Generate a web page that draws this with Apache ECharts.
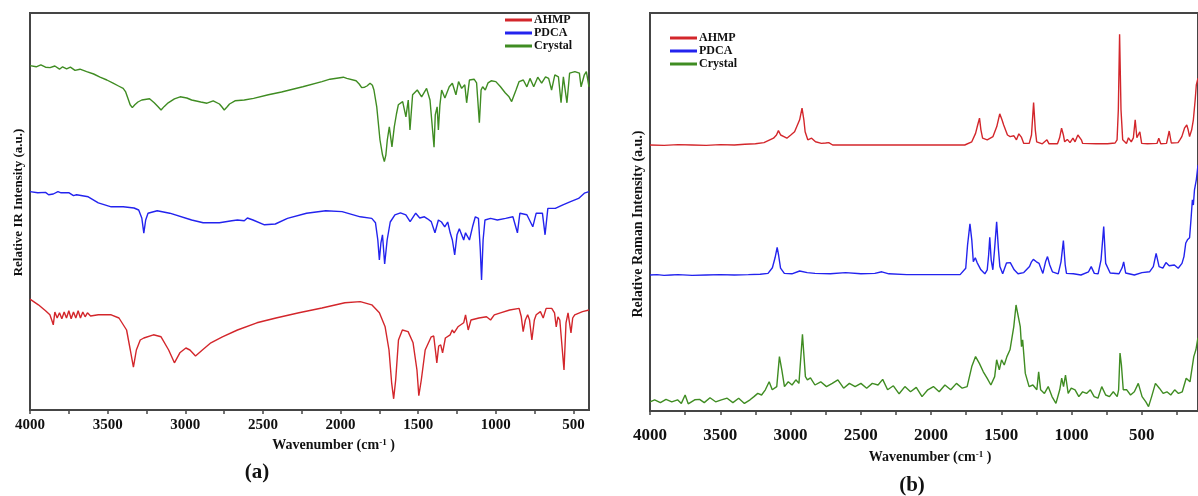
<!DOCTYPE html>
<html><head><meta charset="utf-8">
<script src="https://cdn.jsdelivr.net/npm/echarts@6/dist/echarts.min.js"></script>
<style>html,body{margin:0;padding:0;background:#fff}#c{width:1198px;height:496px}</style>
</head><body><div id="c"></div>
<script>
const seriesNames = ['AHMP', 'PDCA', 'Crystal'];
const tickLabels = [4000, 3500, 3000, 2500, 2000, 1500, 1000, 500];
const tickMarksIR = [4000, 3750, 3500, 3250, 3000, 2750, 2500, 2250, 2000, 1750, 1500, 1250, 1000, 750, 500];
const tickMarksRaman = [4000, 3750, 3500, 3250, 3000, 2750, 2500, 2250, 2000, 1750, 1500, 1250, 1000, 750, 500, 250];

// IR spectra (panel a): [wavenumber, relative intensity]
const irCrystal = [[4000,86.1],[3960,85.8],[3930,86.3],[3900,85.7],[3871,85.6],[3840,86.0],[3810,85.2],[3790,85.8],[3764,85.3],[3740,85.7],[3710,84.9],[3678,85.2],[3635,84.6],[3590,84.0],[3549,83.2],[3505,82.5],[3465,81.7],[3430,81.0],[3400,80.4],[3385,79.6],[3369,77.9],[3355,76.3],[3341,75.6],[3325,76.3],[3305,77.0],[3280,77.5],[3230,77.8],[3200,76.8],[3175,75.8],[3156,75.0],[3135,75.9],[3110,76.8],[3070,77.8],[3033,78.3],[2990,78.0],[2959,77.5],[2900,77.0],[2860,76.7],[2820,77.3],[2780,76.5],[2765,75.8],[2749,75.0],[2730,75.8],[2715,76.5],[2680,77.3],[2620,77.5],[2560,77.9],[2465,78.8],[2380,79.5],[2243,80.8],[2120,82.1],[2068,82.7],[1982,83.2],[1960,82.9],[1900,82.3],[1880,81.5],[1864,80.6],[1845,80.7],[1830,81.0],[1810,81.7],[1795,81.2],[1785,80.0],[1767,75.8],[1746,67.5],[1730,63.8],[1718,62.1],[1708,63.8],[1699,67.5],[1686,70.8],[1669,65.8],[1654,70.8],[1640,74.0],[1628,76.3],[1600,77.1],[1579,73.3],[1564,77.5],[1553,70.0],[1536,78.8],[1506,80.0],[1478,78.3],[1446,80.4],[1424,77.5],[1413,72.5],[1398,65.7],[1390,73.8],[1378,75.8],[1370,70.0],[1360,76.3],[1349,80.0],[1328,78.0],[1300,80.8],[1280,81.7],[1257,78.8],[1240,82.1],[1220,80.4],[1200,81.3],[1188,76.8],[1170,82.5],[1140,82.7],[1124,81.8],[1106,71.8],[1095,80.0],[1085,80.8],[1068,80.0],[1050,81.8],[1030,82.3],[1000,82.1],[970,80.8],[940,79.3],[915,78.3],[898,77.1],[870,80.0],[850,82.1],[823,82.5],[800,80.8],[780,82.9],[756,80.8],[730,83.2],[705,81.7],[680,83.3],[660,82.9],[641,80.0],[620,83.8],[597,83.3],[580,76.8],[565,83.3],[542,76.8],[525,84.2],[491,84.6],[462,84.2],[451,80.8],[430,83.8],[417,84.6],[400,80.8]];
const irPDCA = [[4000,54.6],[3950,54.3],[3900,54.4],[3880,53.8],[3850,54.0],[3820,54.6],[3800,54.3],[3748,54.3],[3720,53.6],[3700,53.8],[3625,53.3],[3560,51.8],[3477,50.8],[3400,50.8],[3330,50.5],[3300,50.0],[3280,48.0],[3267,44.2],[3255,47.5],[3240,49.2],[3181,49.8],[3100,49.2],[2959,47.5],[2885,46.8],[2780,46.8],[2700,47.3],[2664,47.5],[2620,47.3],[2600,48.0],[2564,47.5],[2490,46.3],[2420,46.5],[2342,47.9],[2219,49.2],[2095,49.8],[1990,49.6],[1873,48.3],[1799,47.9],[1775,46.8],[1760,42.5],[1750,37.5],[1740,41.8],[1730,43.8],[1716,36.5],[1700,42.5],[1680,47.0],[1650,48.8],[1614,49.3],[1580,48.8],[1552,47.1],[1516,49.2],[1490,48.0],[1460,48.3],[1440,47.8],[1416,47.1],[1392,44.3],[1370,47.5],[1350,47.0],[1329,45.8],[1310,47.0],[1294,44.3],[1280,42.5],[1265,38.8],[1250,43.8],[1235,45.3],[1207,42.5],[1195,44.3],[1170,42.5],[1150,45.8],[1132,48.3],[1112,47.9],[1100,40.0],[1092,32.5],[1082,42.5],[1070,47.5],[1034,47.9],[990,47.5],[937,47.9],[890,48.3],[861,44.3],[845,49.2],[800,48.8],[762,45.8],[740,49.2],[700,49.2],[683,43.8],[665,50.4],[617,50.4],[568,51.3],[519,52.1],[467,52.9],[430,54.2],[400,54.6]];
const irAHMP = [[4000,27.7],[3946,26.3],[3900,24.8],[3872,23.8],[3860,22.5],[3850,21.3],[3840,24.5],[3825,23.0],[3810,24.3],[3795,22.8],[3780,24.5],[3765,23.0],[3750,24.8],[3735,22.8],[3720,24.5],[3705,23.0],[3690,24.8],[3675,23.0],[3660,24.5],[3645,23.3],[3630,24.3],[3610,23.5],[3560,23.8],[3477,23.8],[3427,23.0],[3378,20.0],[3354,15.0],[3334,10.7],[3315,15.0],[3290,17.5],[3267,18.0],[3205,18.8],[3156,18.3],[3107,15.0],[3070,11.8],[3035,14.3],[2996,15.5],[2970,15.0],[2934,13.5],[2890,15.0],[2835,16.8],[2761,18.3],[2664,20.0],[2539,21.8],[2416,23.0],[2268,24.3],[2120,25.5],[1972,26.8],[1873,27.1],[1799,26.3],[1750,24.3],[1713,20.8],[1688,15.0],[1671,6.8],[1658,2.8],[1645,7.5],[1627,17.5],[1602,20.0],[1565,19.6],[1533,16.8],[1508,10.0],[1496,3.6],[1480,7.5],[1455,15.0],[1416,18.3],[1400,18.5],[1387,14.2],[1380,11.8],[1368,16.0],[1355,16.3],[1343,14.3],[1325,18.0],[1294,18.8],[1281,20.0],[1269,19.3],[1244,20.8],[1207,21.8],[1195,23.8],[1178,20.0],[1160,22.5],[1109,23.0],[1060,23.3],[1034,22.5],[1010,23.8],[970,24.3],[911,25.0],[850,25.4],[836,23.3],[824,19.6],[810,22.5],[795,23.8],[783,22.5],[768,17.5],[752,22.5],[740,23.8],[713,24.6],[695,23.0],[676,25.4],[640,25.4],[622,24.3],[611,20.8],[600,23.3],[588,22.5],[561,10.0],[548,21.8],[535,24.3],[516,19.3],[505,23.0],[492,23.8],[442,24.6],[400,25.0]];

// Raman spectra (panel b): [wavenumber, relative intensity]
const ramanAHMP = [[4000,66.5],[3900,66.4],[3800,66.6],[3700,66.5],[3600,66.4],[3500,66.6],[3400,66.5],[3325,66.7],[3250,66.8],[3189,67.1],[3121,68.2],[3100,69.0],[3086,70.1],[3070,69.0],[3047,68.6],[3026,68.2],[2998,69.0],[2971,69.8],[2957,69.4],[2935,72.8],[2918,75.7],[2905,72.8],[2896,69.8],[2877,67.8],[2850,68.2],[2822,67.3],[2780,66.9],[2750,67.0],[2728,67.1],[2700,66.5],[2500,66.5],[2300,66.5],[2100,66.5],[1900,66.5],[1760,66.5],[1710,67.3],[1683,69.4],[1668,71.5],[1655,73.2],[1645,70.3],[1633,68.2],[1600,67.8],[1559,68.6],[1532,71.1],[1511,74.3],[1495,72.8],[1483,71.5],[1456,69.0],[1437,68.6],[1425,68.5],[1410,68.8],[1392,67.8],[1375,69.3],[1356,68.4],[1340,66.9],[1301,66.9],[1285,69.0],[1270,77.1],[1258,70.3],[1248,67.3],[1208,66.8],[1175,67.8],[1160,66.8],[1100,66.8],[1085,68.3],[1071,70.7],[1058,69.0],[1049,67.3],[1030,67.9],[1011,67.1],[990,68.2],[975,67.3],[955,69.0],[943,69.4],[930,67.8],[921,66.9],[826,66.8],[744,66.8],[690,67.0],[676,67.8],[667,75.3],[658,94.2],[648,75.3],[636,67.8],[609,66.9],[595,68.3],[588,68.6],[575,67.3],[560,68.3],[547,72.8],[535,68.3],[528,67.8],[514,69.8],[501,66.9],[460,66.8],[392,66.9],[379,68.2],[365,66.8],[324,66.9],[305,70.0],[290,67.0],[242,67.1],[229,67.8],[215,68.6],[195,70.8],[180,71.5],[170,70.3],[160,68.6],[145,70.3],[133,72.8],[120,77.8],[112,81.5],[100,83.2]];
const ramanPDCA = [[4000,34.0],[3950,34.1],[3900,33.9],[3850,34.0],[3800,34.1],[3700,33.9],[3600,34.0],[3500,34.1],[3400,34.0],[3300,34.1],[3216,34.2],[3160,34.4],[3129,35.8],[3110,38.3],[3095,40.9],[3085,39.0],[3071,35.7],[3044,34.4],[2990,34.3],[2935,35.0],[2881,34.6],[2826,34.4],[2717,34.3],[2608,34.6],[2499,34.3],[2400,34.4],[2350,34.8],[2300,34.3],[2173,34.1],[1956,34.1],[1793,34.1],[1753,35.7],[1740,41.5],[1723,46.8],[1710,42.8],[1699,37.3],[1685,38.3],[1672,37.1],[1645,35.3],[1617,34.3],[1600,35.3],[1590,39.0],[1582,43.4],[1572,37.8],[1560,35.3],[1548,40.3],[1533,47.3],[1520,40.3],[1510,36.1],[1490,34.3],[1463,37.0],[1436,37.1],[1408,35.3],[1381,34.3],[1340,34.6],[1299,36.1],[1285,37.3],[1272,37.9],[1250,37.3],[1231,36.9],[1204,34.4],[1185,37.3],[1171,38.6],[1155,36.5],[1136,34.8],[1095,34.3],[1075,37.3],[1058,42.6],[1045,36.5],[1036,34.4],[987,34.3],[933,34.0],[879,34.8],[860,36.1],[838,34.4],[811,34.3],[790,37.8],[771,46.1],[757,36.9],[743,36.5],[725,34.5],[662,34.3],[640,35.8],[629,37.3],[615,34.5],[553,34.0],[499,34.6],[445,34.8],[418,36.1],[398,39.4],[377,36.1],[350,35.7],[328,37.1],[305,36.3],[295,36.1],[268,36.5],[241,35.7],[214,36.9],[200,38.6],[187,42.0],[175,42.8],[160,43.3],[150,47.8],[140,52.8],[133,51.5],[125,55.3],[112,57.8],[100,61.5]];
const ramanCrystal = [[4000,2.3],[3967,2.8],[3926,2.1],[3886,2.9],[3845,2.3],[3804,2.8],[3777,1.9],[3750,4.0],[3728,1.8],[3682,2.8],[3647,2.9],[3614,2.1],[3573,3.3],[3533,2.3],[3492,2.8],[3451,3.2],[3410,2.1],[3369,3.2],[3328,1.9],[3288,2.8],[3260,3.6],[3233,4.4],[3206,4.0],[3179,5.3],[3152,7.3],[3130,5.3],[3098,6.1],[3079,13.6],[3062,10.3],[3043,6.1],[3016,7.3],[2989,6.5],[2962,7.8],[2940,6.9],[2915,19.2],[2894,8.6],[2880,7.8],[2858,8.3],[2826,6.5],[2785,7.3],[2744,6.1],[2703,6.9],[2663,7.8],[2622,5.7],[2581,6.9],[2540,6.1],[2499,6.9],[2458,5.7],[2418,6.9],[2377,6.5],[2344,7.9],[2309,5.3],[2268,6.3],[2227,4.3],[2186,6.1],[2146,4.8],[2105,5.9],[2064,3.6],[2023,5.3],[1983,6.1],[1942,4.8],[1901,6.5],[1860,5.3],[1819,6.9],[1778,5.7],[1743,6.1],[1710,11.1],[1683,13.6],[1656,11.9],[1628,9.8],[1601,8.2],[1574,6.5],[1547,8.6],[1533,12.8],[1514,10.3],[1498,12.8],[1479,11.5],[1460,13.6],[1438,15.3],[1411,21.1],[1395,26.5],[1384,26.9],[1365,21.1],[1356,16.1],[1348,17.8],[1329,9.4],[1302,6.1],[1275,6.5],[1247,5.3],[1234,9.8],[1220,5.3],[1193,4.4],[1166,6.1],[1139,3.6],[1111,1.9],[1084,5.3],[1070,8.2],[1057,6.1],[1043,9.0],[1024,4.4],[1002,5.7],[975,5.3],[948,3.6],[921,4.8],[893,4.4],[866,5.3],[839,3.6],[812,3.2],[785,6.1],[757,4.0],[730,3.6],[703,4.8],[675,3.6],[665,5.3],[655,14.5],[645,11.5],[632,5.3],[607,5.3],[580,4.0],[553,4.8],[525,6.9],[498,3.6],[471,2.3],[452,1.1],[430,3.6],[403,6.9],[375,5.7],[348,4.4],[321,4.8],[294,4.0],[266,5.3],[239,4.4],[212,4.8],[184,8.2],[157,7.3],[130,13.6],[115,15.3],[103,17.8],[100,18.3]];

const colors = { AHMP: '#d3262b', PDCA: '#2323ee', Crystal: '#3f8c22' };
const serif = '"Liberation Serif","Times New Roman",serif';
const axisColor = '#454545';

function xAxis(gridIndex, min, ticks, labelSize, margin, nameGap, namePad) {
  return {
    type: 'value', gridIndex, min, max: 4000, inverse: true,
    axisLine: { show: true, onZero: false, lineStyle: { color: axisColor, width: 2 } },
    axisTick: { show: true, inside: false, length: 4, customValues: ticks, lineStyle: { color: axisColor, width: 1.5 } },
    axisLabel: { customValues: tickLabels, formatter: v => String(v), margin, fontFamily: serif, fontWeight: 'bold', fontSize: labelSize, color: '#111' },
    splitLine: { show: false },
    name: 'Wavenumber (cm{sup|-1} )', nameLocation: 'middle', nameGap,
    nameTextStyle: {
      fontFamily: serif, fontWeight: 'bold', fontSize: 14, color: '#111', padding: namePad,
      rich: { sup: { fontFamily: serif, fontWeight: 'bold', fontSize: 9, color: '#111', verticalAlign: 'top', padding: [0, 0, 6, 0] } }
    }
  };
}
function yAxis(gridIndex, max, name, size, namePad) {
  return {
    type: 'value', gridIndex, min: 0, max,
    axisLine: { show: true, lineStyle: { color: axisColor, width: 2 } },
    axisTick: { show: false }, axisLabel: { show: false }, splitLine: { show: false },
    name, nameLocation: 'middle', nameRotate: 90, nameGap: 5,
    nameTextStyle: { fontFamily: serif, fontWeight: 'bold', fontSize: size, color: '#111', padding: namePad }
  };
}
function line(name, data, xi) {
  return {
    type: 'line', name, data, xAxisIndex: xi, yAxisIndex: xi,
    showSymbol: false, symbol: 'none', smooth: false, clip: true,
    color: colors[name], lineStyle: { color: colors[name], width: 1.4 }
  };
}
function legend(left, top) {
  return {
    data: seriesNames, left, top, orient: 'vertical', icon: 'rect',
    itemWidth: 27, itemHeight: 3, itemGap: 1, padding: 0, selectedMode: false,
    textStyle: { fontFamily: serif, fontWeight: 'bold', fontSize: 12, lineHeight: 12, color: '#111', padding: [0, 0, 0, -3] }
  };
}

const chart = echarts.init(document.getElementById('c'), null, { renderer: 'canvas' });
chart.setOption({
  animation: false,
  backgroundColor: '#fff',
  grid: [
    { left: 30, top: 13, width: 559, height: 397, show: true, borderColor: axisColor, borderWidth: 2 },
    { left: 650, top: 13, width: 550, height: 398, show: true, borderColor: axisColor, borderWidth: 2 }
  ],
  xAxis: [
    xAxis(0, 400, tickMarksIR, 15, 8, 24, [0, 0, 0, 48]),
    xAxis(1, 100, tickMarksRaman, 17, 16, 39, [0, 0, 0, 12])
  ],
  yAxis: [
    yAxis(0, 99.25, 'Relative IR Intensity (a.u.)', 13, [0, 0, 0, 18]),
    yAxis(1, 99.5, 'Relative Raman Intensity (a.u.)', 14, [0, 24, 0, 0])
  ],
  legend: [legend(505, 14), legend(670, 32)],
  series: [
    line('AHMP', irAHMP, 0), line('PDCA', irPDCA, 0), line('Crystal', irCrystal, 0),
    line('AHMP', ramanAHMP, 1), line('PDCA', ramanPDCA, 1), line('Crystal', ramanCrystal, 1)
  ],
  graphic: [
    { type: 'text', x: 257, y: 473, style: { text: '(a)', fontFamily: serif, fontWeight: 'bold', fontSize: 21, fill: '#111', align: 'center', verticalAlign: 'middle' } },
    { type: 'text', x: 912, y: 486, style: { text: '(b)', fontFamily: serif, fontWeight: 'bold', fontSize: 21, fill: '#111', align: 'center', verticalAlign: 'middle' } }
  ]
});
</script></body></html>
